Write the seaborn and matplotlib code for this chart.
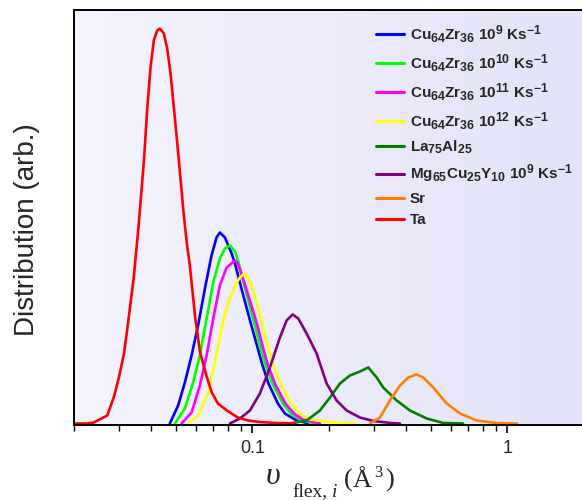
import numpy as np
import pandas as pd
import matplotlib
matplotlib.use("Agg")
import matplotlib.pyplot as plt
import matplotlib._mathtext as _mt
import seaborn as sns
from matplotlib.colors import LinearSegmentedColormap
from matplotlib.ticker import FixedLocator, FixedFormatter, LogLocator, NullFormatter

# ---------------- data ----------------
ta_v = [0.0200, 0.0225, 0.0239, 0.0270, 0.0287, 0.0300, 0.0314, 0.0323, 0.0333, 0.0343, 0.0359,
        0.0376, 0.0387, 0.0399, 0.0411, 0.0424, 0.0434, 0.0450, 0.0464, 0.0478, 0.0493, 0.0508,
        0.0523, 0.0539, 0.0554, 0.0569, 0.0596, 0.0623, 0.0662, 0.0694, 0.0733, 0.0795, 0.0878,
        0.0961, 0.1071, 0.1226, 0.1469]
ta_h = [0, 0, 1, 8, 27, 46, 70, 93, 120, 146, 200, 263, 313, 356, 383, 393, 395, 390, 375, 350,
        315, 280, 245, 208, 180, 158, 108, 72, 47, 31, 20, 13, 6, 3, 1.5, 0.5, 0]

blue_v = [0.0475, 0.0512, 0.0544, 0.0578, 0.0613, 0.0652, 0.0692, 0.0724, 0.0746, 0.0781, 0.0830,
          0.0855, 0.0894, 0.0940, 0.0987, 0.1038, 0.1091, 0.1157, 0.1260, 0.1342, 0.1469, 0.1652]
blue_h = [0, 18, 41, 68, 98, 135, 168, 186, 191, 186, 170, 160, 141, 120, 100, 80, 60, 40, 20, 10, 4, 0]

green_v = [0.0497, 0.0544, 0.0586, 0.0623, 0.0662, 0.0703, 0.0746, 0.0781, 0.0817, 0.0855, 0.0886,
           0.0927, 0.0970, 0.1019, 0.1066, 0.1121, 0.1199, 0.1318, 0.1417, 0.1537, 0.1760]
green_h = [0, 15, 41, 68, 105, 141, 165, 175, 178, 172, 160, 140, 120, 100, 80, 60, 40, 20, 10, 4, 0]

magenta_v = [0.0528, 0.0578, 0.0623, 0.0662, 0.0703, 0.0746, 0.0793, 0.0855, 0.0878, 0.0927, 0.0987,
             0.1042, 0.1091, 0.1146, 0.1226, 0.1348, 0.1456, 0.1579, 0.1841]
magenta_h = [0, 11, 38, 68, 105, 138, 156, 163, 160, 142, 120, 100, 80, 60, 40, 20, 10, 4, 0]

yellow_v = [0.0561, 0.0613, 0.0672, 0.0713, 0.0758, 0.0804, 0.0855, 0.0894, 0.0935, 0.0979, 0.1042,
            0.1091, 0.1141, 0.1199, 0.1289, 0.1417, 0.1537, 0.1682, 0.1956, 0.2206, 0.2526]
yellow_h = [0, 8, 31, 61, 95, 121, 138, 146, 150, 142, 120, 100, 80, 60, 40, 20, 10, 4, 2, 0.5, 0]

la_v = [0.1404, 0.1633, 0.1841, 0.2016, 0.2206, 0.2414, 0.2642, 0.2848, 0.3073, 0.3261, 0.3681,
        0.4150, 0.4826, 0.5607, 0.6697]
la_h = [0, 3, 13, 26, 40, 48, 52, 56, 46, 36, 23, 13, 5, 0.5, 0]

mg_v = [0.0817, 0.0894, 0.0979, 0.1071, 0.1172, 0.1283, 0.1363, 0.1439, 0.1514, 0.1633, 0.1787,
        0.1956, 0.2141, 0.2343, 0.2642, 0.2980, 0.3500, 0.3792]
mg_h = [0, 5, 13, 30, 56, 86, 103, 109, 105, 90, 70, 40, 23, 13, 6, 2.5, 0.5, 0]

sr_v = [0.2892, 0.3165, 0.3464, 0.3792, 0.4087, 0.4409, 0.4679, 0.5122, 0.5781, 0.6518, 0.7579,
        0.9079, 1.0876]
sr_h = [0, 6, 23, 38, 46, 49, 46, 36, 20, 10, 3, 0.5, 0]

labels = [r"Cu$_{64}$Zr$_{36}$ 10$^{9}$ Ks$^{-1}$",
          r"Cu$_{64}$Zr$_{36}$ 10$^{10}$ Ks$^{-1}$",
          r"Cu$_{64}$Zr$_{36}$ 10$^{11}$ Ks$^{-1}$",
          r"Cu$_{64}$Zr$_{36}$ 10$^{12}$ Ks$^{-1}$",
          r"La$_{75}$Al$_{25}$",
          r"Mg$_{65}$Cu$_{25}$Y$_{10}$ 10$^{9}$ Ks$^{-1}$",
          "Sr",
          "Ta"]
xs = [blue_v, green_v, magenta_v, yellow_v, la_v, mg_v, sr_v, ta_v]
ys = [blue_h, green_h, magenta_h, yellow_h, la_h, mg_h, sr_h, ta_h]
colors = ["#0000FF", "#00FF00", "#FF00FF", "#FFFF00", "#008000", "#800080", "#FF8000", "#FF0000"]

xtick_vals = [0.1, 1]
xtick_labels = ["0.1", "1"]

# ---------------- style ----------------
sns.set_style("ticks")
plt.rcParams['font.family'] = ['Liberation Sans', 'DejaVu Sans']
plt.rcParams['mathtext.default'] = 'regular'
_mt.SHRINK_FACTOR = 0.8  # larger sub/superscripts like the reference

W, H = 582, 501
fig = plt.figure(figsize=(W / 100, H / 100), dpi=100)
pos = [74 / W, 1 - 425 / H, 1 - 74 / W, (425 - 10) / H]

# gradient background
bg = fig.add_axes(pos, zorder=0)
cmap = LinearSegmentedColormap.from_list("bg", ["#F4F4FD", "#E3E3F8"])
bg.imshow(np.linspace(0, 1, 256)[None, :], aspect='auto', cmap=cmap, extent=[0, 1, 0, 1])
bg.set_axis_off()

ax = fig.add_axes(pos, zorder=1)
ax.set_facecolor('none')

for v, h, c, lab in zip(xs, ys, colors, labels):
    sns.lineplot(x=v, y=h, color=c, linewidth=1.9, label=lab, ax=ax, sort=False)

ax.set_xscale('log')
ax.set_xlim(0.02, 1.961)
ax.set_ylim(-1.5, 413.5)
ax.set_yticks([])
ax.xaxis.set_major_locator(FixedLocator(xtick_vals))
ax.xaxis.set_major_formatter(FixedFormatter(xtick_labels))
ax.xaxis.set_minor_locator(LogLocator(base=10, subs=np.arange(2, 10)))
ax.xaxis.set_minor_formatter(NullFormatter())
ax.tick_params(axis='x', which='major', direction='out', length=6, width=1.2, pad=5,
               labelsize=13, color='black')
ax.tick_params(axis='x', which='minor', direction='out', length=4, width=1.0, color='black')
for s in ['left', 'bottom', 'top']:
    ax.spines[s].set_linewidth(1.4)
    ax.spines[s].set_color('black')
ax.spines['right'].set_visible(False)
ax.set_xlabel("")
ax.set_ylabel("")

handles, labs = ax.get_legend_handles_labels()
leg = ax.legend(handles, labs, loc='upper left', bbox_to_anchor=(376 / W, 1 - 23 / H),
                bbox_transform=fig.transFigure, frameon=False,
                prop={'family': 'Liberation Sans', 'weight': 'bold', 'size': 11},
                handlelength=1.85, handletextpad=0.35, labelspacing=0.45,
                borderaxespad=0, borderpad=0)
for ln in leg.get_lines():
    ln.set_linewidth(2.2)

# y label
fig.text(27 / W, 1 - 230 / H, "Distribution (arb.)", rotation=90, ha='center', va='center',
         fontsize=20, family=['Liberation Sans', 'DejaVu Sans'])

# x label pieces (Times-like)
serif = ['Liberation Serif', 'DejaVu Serif']
fig.text(266 / W, 1 - 484 / H, "\u03c5", fontsize=23, style='italic', family=serif, va='baseline')
fig.text(292 / W, 1 - 497 / H, "flex,", fontsize=14, family=serif, va='baseline')
fig.text(332 / W, 1 - 497 / H, "i", fontsize=14, style='italic', family=serif, va='baseline')
fig.text(344 / W, 1 - 487 / H, "(", fontsize=19, family=serif, va='baseline')
fig.text(353 / W, 1 - 487 / H, "\u00c5", fontsize=19, family=serif, va='baseline')
fig.text(374 / W, 1 - 477 / H, "3", fontsize=12, family=serif, va='baseline')
fig.text(385 / W, 1 - 487 / H, ")", fontsize=19, family=serif, va='baseline')

fig.savefig("out.png", dpi=100)
